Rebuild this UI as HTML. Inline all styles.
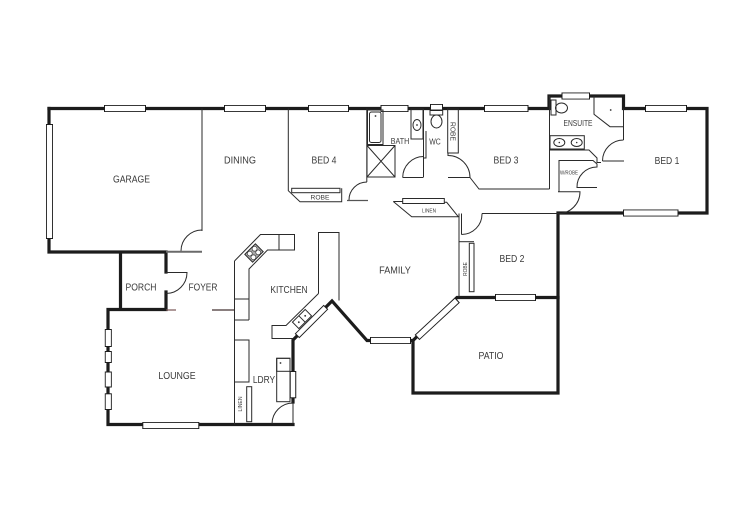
<!DOCTYPE html>
<html><head><meta charset="utf-8"><style>
html,body{margin:0;padding:0;background:#fff}
svg{display:block}
text{font-family:"Liberation Sans",sans-serif;fill:#3a3a3a;text-anchor:middle}
.t{stroke:#2a2a2a;stroke-width:1;fill:none}
.k{stroke:#1c1c1c;stroke-width:3.2;fill:none;stroke-linecap:square}
.wo{stroke:#1c1c1c;stroke-width:7;stroke-linecap:butt}
.wi{stroke:#fff;stroke-width:5.2;stroke-linecap:butt}
</style></head><body>
<svg width="750" height="525" viewBox="0 0 750 525" xmlns="http://www.w3.org/2000/svg">
<rect width="750" height="525" fill="#fff"/>

<!-- exterior thick walls -->
<path class="k" d="M49,108.5 H549 V96 H623.5 V108.5 H707 V213 H558 V393 H413 V340.5 H367 L332,301 L293,340 V402"/>
<path class="k" d="M293,424.5 H108 V309.5 H166 M120.5,309.5 V252 M49,252 H166 V272 M166,292 V309.5 M49,252 V108.5"/>
<path class="k" d="M413,340.5 L457,297.5 H558"/>

<!-- windows -->
<g>
<line class="wo" x1="49.5" y1="124" x2="49.5" y2="239"/><line class="wi" x1="49.5" y1="125" x2="49.5" y2="238"/>
<line class="wo" x1="104" y1="108.5" x2="146" y2="108.5"/><line class="wi" x1="105" y1="108.5" x2="145" y2="108.5"/>
<line class="wo" x1="224" y1="108.5" x2="266" y2="108.5"/><line class="wi" x1="225" y1="108.5" x2="265" y2="108.5"/>
<line class="wo" x1="308" y1="108.5" x2="349" y2="108.5"/><line class="wi" x1="309" y1="108.5" x2="348" y2="108.5"/>
<line class="wo" x1="380.5" y1="108.5" x2="408.5" y2="108.5"/><line class="wi" x1="381.5" y1="108.5" x2="407.5" y2="108.5"/>
<line class="wo" x1="430" y1="107.5" x2="443" y2="107.5"/><line class="wi" x1="431" y1="107.5" x2="442" y2="107.5"/>
<line class="wo" x1="484" y1="108.5" x2="528.5" y2="108.5"/><line class="wi" x1="485" y1="108.5" x2="527.5" y2="108.5"/>
<line class="wo" x1="561.5" y1="96" x2="590" y2="96"/><line class="wi" x1="562.5" y1="96" x2="589" y2="96"/>
<line class="wo" x1="645" y1="108.5" x2="687" y2="108.5"/><line class="wi" x1="646" y1="108.5" x2="686" y2="108.5"/>
<line class="wo" x1="623" y1="213" x2="678.5" y2="213"/><line class="wi" x1="624" y1="213" x2="677.5" y2="213"/>
<line class="wo" x1="495" y1="297.5" x2="536" y2="297.5"/><line class="wi" x1="496" y1="297.5" x2="535" y2="297.5"/>
<line class="wo" x1="370" y1="340.5" x2="411" y2="340.5"/><line class="wi" x1="371" y1="340.5" x2="410" y2="340.5"/>
<line class="wo" x1="417" y1="337.5" x2="457.5" y2="300"/><line class="wi" x1="417.8" y1="336.8" x2="456.7" y2="300.7"/>
<line class="wo" x1="297" y1="336" x2="326" y2="307" style="stroke-width:6.5"/><line class="wi" x1="297.7" y1="335.3" x2="325.3" y2="307.7" style="stroke-width:4.6"/>
<line class="wo" x1="108.3" y1="329" x2="108.3" y2="347"/><line class="wi" x1="108.3" y1="330" x2="108.3" y2="346"/>
<line class="wo" x1="108.3" y1="351" x2="108.3" y2="363"/><line class="wi" x1="108.3" y1="352" x2="108.3" y2="362"/>
<line class="wo" x1="108.3" y1="371.5" x2="108.3" y2="387.5"/><line class="wi" x1="108.3" y1="372.5" x2="108.3" y2="386.5"/>
<line class="wo" x1="108.3" y1="393.3" x2="108.3" y2="410"/><line class="wi" x1="108.3" y1="394.3" x2="108.3" y2="409"/>
<line class="wo" x1="142.3" y1="425.5" x2="199.3" y2="425.5"/><line class="wi" x1="143.3" y1="425.5" x2="198.3" y2="425.5"/>
<line class="wo" x1="293" y1="371" x2="293" y2="398.3" style="stroke-width:6.5"/><line class="wi" x1="293" y1="372" x2="293" y2="397.3" style="stroke-width:4.5"/>
</g>

<!-- garage / dining / foyer -->
<path class="t" d="M202,108.5 V231"/>
<path class="t" d="M202,230 A21,21 0 0 0 181,251"/>
<line x1="166" y1="251.8" x2="202" y2="251.8" stroke="#6a6a6a" stroke-width="2"/>
<path class="t" d="M166,272.5 H187 A21,21 0 0 1 166,293.5"/>
<line x1="166" y1="310" x2="176" y2="310" stroke="#755" stroke-width="1.2"/>
<line x1="212" y1="310" x2="235" y2="310" stroke="#433" stroke-width="1.2"/>

<!-- kitchen -->
<path class="t" d="M234.5,261 L260.5,234.5 H294.5 V250 H267.5 L249,269 V320 M279,234.5 V250 M234.5,299 H249 M234.5,320 H249"/>
<path class="t" d="M234.5,261 V424.5 M234.5,340 H249 V382 H234.5"/>
<rect x="246.7" y="386.7" width="5" height="35" class="t" fill="#fff"/>
<g transform="translate(254,253) rotate(-45)">
<rect x="-7.5" y="-5.5" width="15" height="11" fill="#aaa" stroke="#2a2a2a" stroke-width="1"/>
<circle cx="-3.4" cy="-2.6" r="2.4" fill="#fff" stroke="#333" stroke-width="0.7"/>
<circle cx="3.4" cy="-2.6" r="2.4" fill="#fff" stroke="#333" stroke-width="0.7"/>
<circle cx="-3.4" cy="2.6" r="2.4" fill="#fff" stroke="#333" stroke-width="0.7"/>
<circle cx="3.4" cy="2.6" r="2.4" fill="#fff" stroke="#333" stroke-width="0.7"/>
</g>
<path class="t" d="M318.5,293.5 V232.5 H339 V300.5 M318.5,293.5 L286,325.5 H272 V338.5 H292.5"/>
<g transform="translate(302,319) rotate(-45)">
<rect x="-9" y="-4.5" width="18" height="9" class="t" fill="#fff"/>
<line x1="0" y1="-4.5" x2="0" y2="4.5" class="t"/>
<circle cx="-4.5" cy="0" r="0.9" fill="#333"/><circle cx="4.5" cy="0" r="0.9" fill="#333"/>
</g>

<!-- laundry -->
<rect x="276.7" y="358.3" width="13.3" height="43.4" class="t" fill="#fff"/>
<rect x="276.7" y="358.3" width="13.3" height="13" class="t"/>
<circle cx="280.5" cy="363" r="0.9" fill="#333"/>
<path class="t" d="M293,403 V424 M293,403 A21,21 0 0 0 272,424"/>

<!-- bed 4 -->
<path class="t" d="M288.3,108.5 V190.7 L300,201.7 H341.7 V188.3"/>
<rect x="291.7" y="188.3" width="48.3" height="4.4" class="t" fill="#fff"/>
<path class="t" d="M366.8,108.5 V182 M367,182 A18,18 0 0 0 349,200"/>
<line x1="347" y1="200.5" x2="368" y2="200.5" stroke="#555" stroke-width="1.3"/>

<!-- bath -->
<rect x="367.5" y="110" width="15.5" height="34.5" class="t"/>
<rect x="369.5" y="112" width="11.5" height="30.5" rx="2" class="t"/>
<circle cx="375.5" cy="116" r="0.9" fill="#333"/>
<rect x="367" y="145.5" width="28" height="31.5" class="t"/>
<path class="t" d="M367,145.5 L395,177 M395,145.5 L367,177"/>
<rect x="411" y="109" width="12" height="30" class="t"/>
<ellipse cx="417" cy="125" rx="4" ry="5.5" class="t"/>
<circle cx="417" cy="125" r="0.9" fill="#333"/>
<path class="t" d="M423.5,109 V177 M426,131 V158 H423.5"/>
<path class="t" d="M402.7,177.5 H423.5 M402.7,177.5 A21,21 0 0 1 423.5,156.5"/>
<rect x="430" y="110" width="12.7" height="5" class="t" fill="#fff"/>
<ellipse cx="436.5" cy="121.5" rx="5.5" ry="6.5" class="t"/>
<rect x="447.7" y="109" width="10.6" height="44" class="t" fill="#fff"/>
<path class="t" d="M448,153 V155.5 A22,22 0 0 1 470,177.5 H448 M470,177.5 L479,189 H549.5"/>

<!-- hall linen -->
<rect x="402.7" y="198.5" width="41.6" height="5" class="t" fill="#fff"/>
<path class="t" d="M393.3,201.5 H402.7 M393.3,201.5 L411.7,216.7 H458.3 L446.7,202.3 H444.3"/>

<!-- ensuite / wrobe / bed1 -->
<path class="t" d="M549.5,96 V189"/>
<rect x="551" y="100" width="5" height="15" class="t" fill="#fff"/>
<ellipse cx="561.5" cy="108" rx="6" ry="5" class="t" fill="#fff"/>
<path class="t" d="M594,96 V114.3 L610,126.7 H623.5"/>
<circle cx="610.7" cy="110" r="0.9" fill="#333"/>
<rect x="550" y="135.7" width="34.3" height="13.3" class="t"/>
<ellipse cx="559.3" cy="142.5" rx="5.5" ry="4" class="t"/>
<ellipse cx="576.7" cy="142.5" rx="5.5" ry="4" class="t"/>
<circle cx="559.3" cy="142.5" r="0.8" fill="#333"/><circle cx="576.7" cy="142.5" r="0.8" fill="#333"/>
<path class="t" d="M549.5,150 H589 L597,158 V162.5 H601"/>
<path class="t" d="M623.5,108.5 V140 M602.5,161 H624 M602.5,161 A21,21 0 0 1 623.5,140"/>
<path class="t" d="M559,191.7 V160.5 H593 L597,164 V167 A20,20 0 0 0 577,187.5 H597"/>
<path class="t" d="M558,191.7 H580 A22,22 0 0 1 558,213.7"/>

<!-- bed 2 -->
<path class="t" d="M459,213.5 V297 M461.5,213.5 V234.5 M482,213.5 H558 M482,213.5 A20.5,20.5 0 0 1 461.5,234.5"/>
<path class="t" d="M459,241.7 H474"/>
<rect x="469.3" y="243.3" width="4.7" height="48.4" class="t" fill="#fff"/>

<!-- labels -->
<text x="131.5" y="182.3" font-size="10" textLength="37" lengthAdjust="spacingAndGlyphs">GARAGE</text>
<text x="240" y="163.3" font-size="10" textLength="32" lengthAdjust="spacingAndGlyphs">DINING</text>
<text x="324" y="163.3" font-size="10" textLength="25" lengthAdjust="spacingAndGlyphs">BED 4</text>
<text x="400" y="144" font-size="8.5" textLength="18.5" lengthAdjust="spacingAndGlyphs">BATH</text>
<text x="435" y="144.5" font-size="8.5" textLength="11.5" lengthAdjust="spacingAndGlyphs">WC</text>
<text x="506" y="163.3" font-size="10" textLength="25" lengthAdjust="spacingAndGlyphs">BED 3</text>
<text x="578" y="126" font-size="8" textLength="29" lengthAdjust="spacingAndGlyphs">ENSUITE</text>
<text x="667" y="163.8" font-size="10" textLength="24.7" lengthAdjust="spacingAndGlyphs">BED 1</text>
<text x="569" y="174.7" font-size="5.5" textLength="18" lengthAdjust="spacingAndGlyphs">W/ROBE</text>
<text x="320" y="199.5" font-size="6.5" textLength="19" lengthAdjust="spacingAndGlyphs">ROBE</text>
<text x="429" y="212.5" font-size="5.5" textLength="14" lengthAdjust="spacingAndGlyphs">LINEN</text>
<text x="395" y="273.6" font-size="10" textLength="31.7" lengthAdjust="spacingAndGlyphs">FAMILY</text>
<text x="512" y="261.8" font-size="10" textLength="25" lengthAdjust="spacingAndGlyphs">BED 2</text>
<text x="491" y="358.8" font-size="10" textLength="25" lengthAdjust="spacingAndGlyphs">PATIO</text>
<text x="141" y="290.6" font-size="10" textLength="31" lengthAdjust="spacingAndGlyphs">PORCH</text>
<text x="203" y="290.6" font-size="10" textLength="29" lengthAdjust="spacingAndGlyphs">FOYER</text>
<text x="289" y="292.9" font-size="10" textLength="37.3" lengthAdjust="spacingAndGlyphs">KITCHEN</text>
<text x="177" y="379" font-size="10" textLength="37.3" lengthAdjust="spacingAndGlyphs">LOUNGE</text>
<text x="264" y="382.8" font-size="10" textLength="22.3" lengthAdjust="spacingAndGlyphs">LDRY</text>
<text transform="translate(453,131.5) rotate(90)" x="0" y="2.5" font-size="7" textLength="19" lengthAdjust="spacingAndGlyphs">ROBE</text>
<text transform="translate(465,269) rotate(-90)" x="0" y="2" font-size="5.5" textLength="13.7" lengthAdjust="spacingAndGlyphs">ROBE</text>
<text transform="translate(240,404) rotate(-90)" x="0" y="2" font-size="5.5" textLength="15" lengthAdjust="spacingAndGlyphs">LINEN</text>
</svg>
</body></html>
